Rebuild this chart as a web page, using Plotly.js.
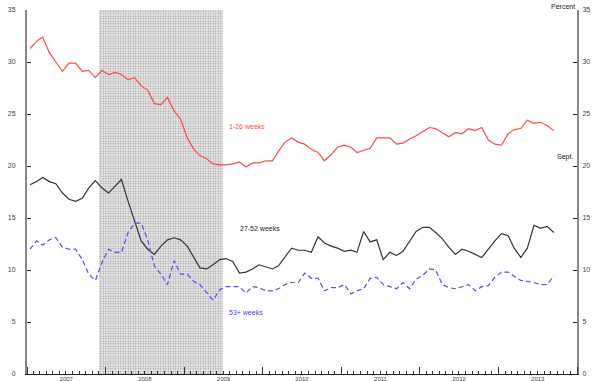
<!DOCTYPE html>
<html>
<head>
<meta charset="utf-8">
<script src="https://cdn.plot.ly/plotly-3.0.1.min.js"></script>
<style>html,body{margin:0;padding:0;background:#fff}#chart{width:600px;height:381px}</style>
</head>
<body>
<div id="chart"></div>
<script>
// Monthly data, Jan 2007 – Sept 2013 (percent of unemployed)
const startYear = 2007, startMonth = 1, nMonths = 81;
const weeks1to26 = [31.3,32.0,32.4,30.9,30.0,29.1,29.9,29.9,29.1,29.2,28.5,29.2,
  28.8,29.0,28.8,28.3,28.5,27.7,27.3,26.0,25.9,26.6,25.3,24.5,
  22.7,21.6,21.0,20.7,20.2,20.1,20.1,20.2,20.4,19.9,20.3,20.3,
  20.5,20.5,21.4,22.3,22.7,22.3,22.1,21.6,21.3,20.5,21.1,21.8,
  22.0,21.8,21.3,21.5,21.7,22.7,22.7,22.7,22.1,22.2,22.6,22.9,
  23.3,23.7,23.6,23.2,22.8,23.2,23.1,23.6,23.4,23.7,22.5,22.1,
  22.0,23.1,23.5,23.6,24.4,24.1,24.2,23.9,23.4];
const weeks27to52 = [18.2,18.5,18.9,18.5,18.3,17.4,16.8,16.6,16.9,17.9,18.6,17.9,
  17.4,18.1,18.7,16.6,14.7,12.8,12.0,11.5,12.3,12.9,13.1,12.9,
  12.3,11.2,10.2,10.1,10.5,11.0,11.1,10.8,9.7,9.8,10.1,10.5,
  10.3,10.1,10.4,11.3,12.1,11.9,11.9,11.7,13.2,12.6,12.3,12.1,
  11.8,11.9,11.7,13.7,12.7,12.9,11.0,11.7,11.4,11.8,12.8,13.7,
  14.1,14.1,13.6,13.0,12.2,11.5,12.0,11.8,11.5,11.2,12.0,12.8,
  13.5,13.3,12.1,11.2,12.1,14.3,14.0,14.2,13.6];
const weeks53plus = [12.0,12.8,12.4,12.9,13.1,12.2,12.0,12.0,11.0,9.6,9.0,10.7,
  12.0,11.7,11.7,13.6,14.5,14.5,12.9,10.4,9.6,8.6,10.9,9.6,
  9.6,8.9,8.6,7.8,7.1,8.1,8.4,8.4,8.4,7.8,8.4,8.3,
  8.0,8.0,8.2,8.6,8.8,8.8,9.7,9.2,9.2,8.0,8.3,8.3,
  8.6,7.7,8.0,8.2,9.2,9.3,8.6,8.4,8.2,8.8,8.2,9.1,
  9.5,10.1,10.0,8.6,8.3,8.2,8.4,8.6,8.0,8.4,8.5,9.3,
  9.8,9.8,9.4,9.0,8.9,8.8,8.6,8.6,9.4];
const seriesNames = ["1-26 weeks","27-52 weeks","53+ weeks"];
const recessionStart = "2007-12-01", recessionEnd = "2009-07-01";
const yTicks = [0,5,10,15,20,25,30,35];

const dates = [];
for (let i = 0; i < nMonths; i++) {
  const m0 = startMonth - 1 + i;
  const y = startYear + Math.floor(m0 / 12), m = (m0 % 12) + 1;
  dates.push(`${y}-${String(m).padStart(2,'0')}-15`);
}
const rs = new Date(recessionStart).getTime(), re = new Date(recessionEnd).getTime();
const recMid = new Date((rs + re) / 2).toISOString();

const fam = "Liberation Sans, Arial, sans-serif";
const font = {family: fam, size: 7, color: "#444"};
const traces = [
  {type: "bar", x: [recMid], y: [35], base: [0], width: [re - rs], hoverinfo: "skip",
   marker: {color: "#ffffff", line: {width: 0},
            pattern: {shape: ".", fgcolor: "#a0a0a0", bgcolor: "#ececec", size: 2.5, solidity: 0.35}},
   showlegend: false},
  {type: "scatter", mode: "lines", x: dates, y: weeks1to26, name: seriesNames[0],
   line: {color: "#ff4a4a", width: 1.2}},
  {type: "scatter", mode: "lines", x: dates, y: weeks27to52, name: seriesNames[1],
   line: {color: "#333333", width: 1.2}},
  {type: "scatter", mode: "lines", x: dates, y: weeks53plus, name: seriesNames[2],
   line: {color: "#5050ff", width: 1.2, dash: "5px,3px"}},
  {type: "scatter", mode: "lines", x: dates, y: weeks53plus, yaxis: "y2",
   line: {width: 0}, opacity: 0, hoverinfo: "skip", showlegend: false}
];
const layout = {
  width: 600, height: 381,
  margin: {l: 27, r: 23, t: 10, b: 7},
  paper_bgcolor: "#fff", plot_bgcolor: "#fff",
  showlegend: false, bargap: 0,
  font: font,
  xaxis: {type: "date", range: ["2007-01-01", "2014-01-01"], dtick: "M12", tick0: "2007-01-01",
          ticklabelmode: "period", tickformat: "%Y", ticks: "inside", ticklen: 7, tickcolor: "#333",
          minor: {dtick: "M1", ticks: "inside", ticklen: 3, tickcolor: "#333", showgrid: false},
          showline: true, linecolor: "#222", linewidth: 1, showgrid: false, zeroline: false,
          tickfont: {family: fam, size: 6, color: "#444"}, ticklabelstandoff: -1},
  yaxis: {range: [0, 35], tickvals: yTicks, ticks: "inside", ticklen: 4, tickcolor: "#222",
          showline: true, linecolor: "#888", linewidth: 2, showgrid: false, zeroline: false,
          ticklabelstandoff: 8, tickfont: font},
  yaxis2: {range: [0, 35], tickvals: yTicks, overlaying: "y", side: "right", anchor: "x",
           ticks: "inside", ticklen: 4, tickcolor: "#222",
           showline: true, linecolor: "#888", linewidth: 2, showgrid: false, zeroline: false,
           ticklabelstandoff: 2, tickfont: font},
  annotations: [
    {text: "Percent", xref: "paper", yref: "paper", x: 1, y: 1, xanchor: "right", yanchor: "bottom",
     yshift: -2, showarrow: false, font: {family: fam, size: 7, color: "#222"}},
    {text: "Sept.", xref: "paper", yref: "y", x: 0.96, y: 20.9, xanchor: "left", yanchor: "middle",
     showarrow: false, font: {family: fam, size: 7, color: "#222"}},
    {text: seriesNames[0], xref: "x", yref: "y", x: "2009-07-20", y: 23.8, xanchor: "left",
     showarrow: false, font: {family: fam, size: 7, color: "#ff4a4a"}},
    {text: seriesNames[1], xref: "x", yref: "y", x: "2009-09-10", y: 14.0, xanchor: "left",
     showarrow: false, font: {family: fam, size: 7, color: "#222"}},
    {text: seriesNames[2], xref: "x", yref: "y", x: "2009-07-20", y: 5.9, xanchor: "left",
     showarrow: false, font: {family: fam, size: 7, color: "#4040ff"}}
  ]
};
Plotly.newPlot("chart", traces, layout, {staticPlot: true});
</script>
</body>
</html>
